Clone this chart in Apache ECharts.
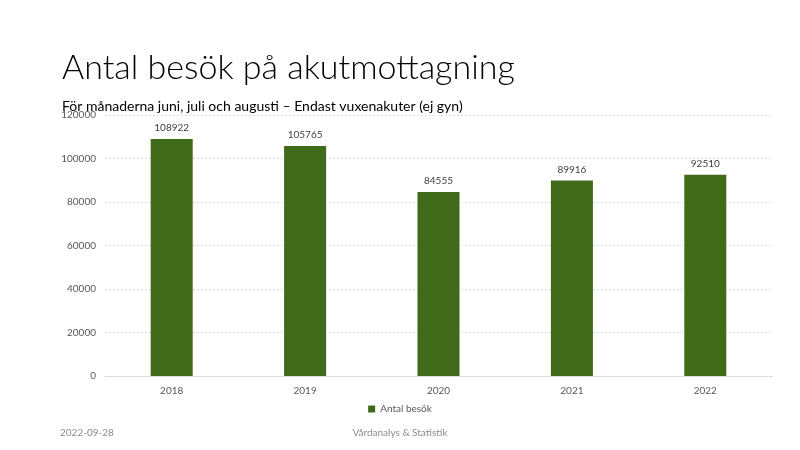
<!DOCTYPE html>
<html><head><meta charset="utf-8">
<script src="https://cdn.jsdelivr.net/npm/echarts@6/dist/echarts.min.js"></script>
<style>html,body{margin:0;padding:0;background:#fff}#c{width:800px;height:450px}</style>
</head><body><div id="c"></div>
<script>
const categories = ['2018','2019','2020','2021','2022'];
const visits = [108922, 105765, 84555, 89916, 92510];
const seriesName = 'Antal besök';
const yTicks = {min:0, max:120000, interval:20000};

const chart = echarts.init(document.getElementById('c'), null, {renderer:'canvas'});
const F = 'Lato, "Open Sans", sans-serif';
chart.setOption({
  animation:false,
  backgroundColor:'#fff',
  textStyle:{fontFamily:F},
  title:[
    {text:'Antal besök på akutmottagning', left:57, top:46, textStyle:{fontFamily:F, fontWeight:300, fontSize:34, color:'#000'}},
    {text:'För månaderna juni, juli och augusti – Endast vuxenakuter (ej gyn)', left:57, top:94, textStyle:{fontFamily:F, fontWeight:'normal', fontSize:14, color:'#000'}},
    {text:'2022-09-28', left:55, top:423, textStyle:{fontFamily:F, fontWeight:'normal', fontSize:10, color:'#8c8c8c'}},
    {text:'Vårdanalys & Statistik', left:'center', top:423, textStyle:{fontFamily:F, fontWeight:'normal', fontSize:10, color:'#8c8c8c'}}
  ],
  legend:{bottom:31, left:'center', itemWidth:7, itemHeight:7, itemGap:4, icon:'rect',
    textStyle:{fontFamily:F, fontSize:10, color:'#595959'}},
  grid:{left:105, right:28, top:115, bottom:74, containLabel:false},
  xAxis:{type:'category', data:categories,
    axisLine:{lineStyle:{color:'#d9d9d9', type:'dotted'}}, axisTick:{show:false},
    axisLabel:{color:'#595959', fontSize:10, margin:10, fontFamily:F}},
  yAxis:{type:'value', min:yTicks.min, max:yTicks.max, interval:yTicks.interval,
    axisLine:{show:false}, axisTick:{show:false},
    axisLabel:{color:'#595959', fontSize:10, margin:9, fontFamily:F, formatter:v=>String(v)}},
  series:[{name:seriesName, type:'bar', data:visits, barWidth:'31.5%',
    itemStyle:{color:'#406a1a'},
    label:{show:true, position:'top', distance:6, color:'#404040', fontSize:10, fontFamily:F}}]
});
chart.setOption({yAxis:{splitLine:{lineStyle:{color:'#dcdcdc', type:[2,2], width:1}}}});
</script></body></html>
